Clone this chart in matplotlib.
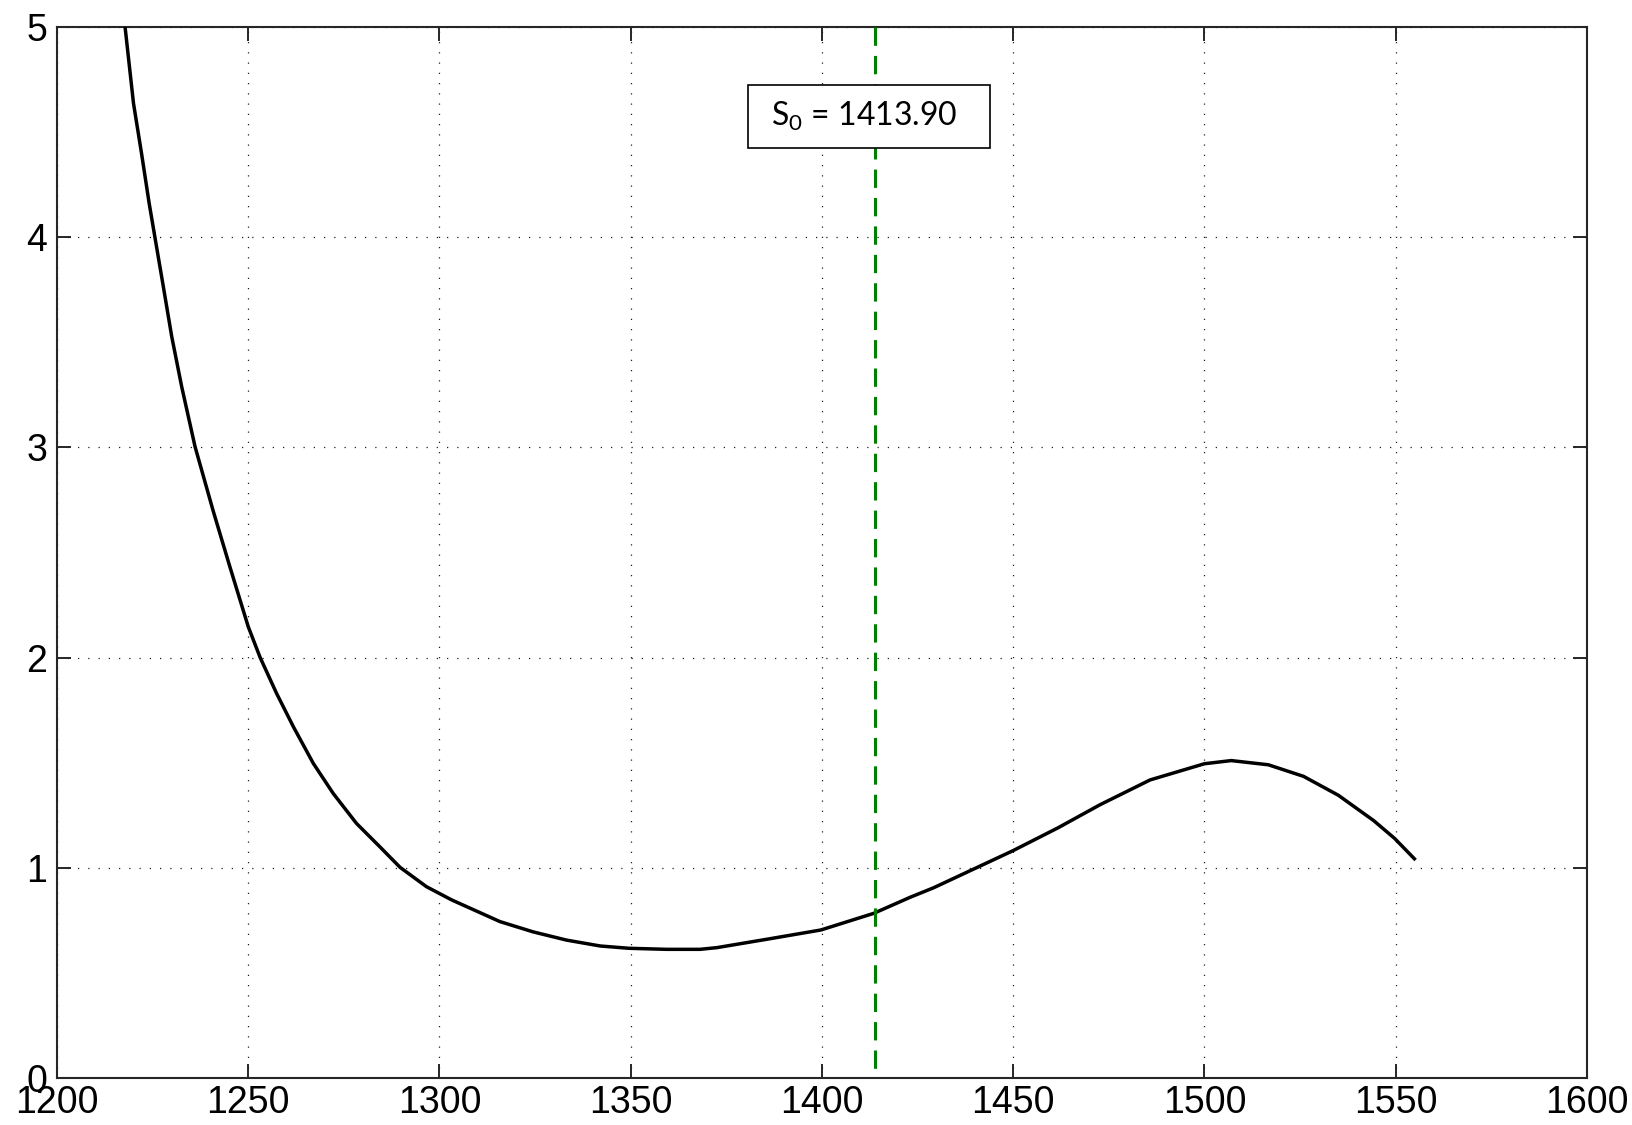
import matplotlib.pyplot as plt

plt.rcParams['mathtext.fontset'] = 'custom'
plt.rcParams['mathtext.rm'] = 'Lato'
plt.rcParams['mathtext.it'] = 'Lato:italic'

# curve samples (S, value)
s_vals = [1217.8, 1220.0, 1222.1, 1224.1, 1225.6, 1227.8, 1230.0, 1232.6,
          1236.1, 1240.8, 1245.2, 1250.0, 1253.1, 1257.4, 1261.8, 1267.0,
          1272.2, 1278.3, 1284.4, 1289.7, 1296.6, 1303.2, 1315.8, 1324.5,
          1333.2, 1342.0, 1349.5, 1359.4, 1368.1, 1372.5, 1385.6, 1399.7,
          1413.5, 1423.1, 1429.2, 1449.9, 1461.7, 1472.7, 1485.8, 1500.0,
          1507.0, 1516.7, 1525.9, 1535.0, 1544.2, 1549.7, 1555.2]
f_vals = [5.000, 4.637, 4.399, 4.161, 4.000, 3.765, 3.527, 3.289,
          3.003, 2.700, 2.432, 2.147, 2.001, 1.830, 1.671, 1.497,
          1.354, 1.211, 1.100, 1.002, 0.910, 0.847, 0.744, 0.695,
          0.656, 0.628, 0.617, 0.612, 0.612, 0.620, 0.660, 0.704,
          0.783, 0.860, 0.905, 1.081, 1.190, 1.300, 1.418, 1.495,
          1.510, 1.490, 1.435, 1.345, 1.225, 1.140, 1.037]
s0 = 1413.90

x_ticks = [1200, 1250, 1300, 1350, 1400, 1450, 1500, 1550, 1600]
y_ticks = [0, 1, 2, 3, 4, 5]

fig = plt.figure(figsize=(16.33, 11.25), dpi=100)
ax = fig.add_axes([0.0349, 0.0418, 0.9369, 0.9342])

ax.plot(s_vals, f_vals, color='black', lw=2.5, solid_joinstyle='round',
        solid_capstyle='butt', zorder=3)
# dashed marker line, drawn top-down so the pattern starts at the top edge
ax.plot([s0, s0], [5, 0], color='#008000', lw=2.2, dashes=(6, 3.3), zorder=4)

ax.set_xlim(1200, 1600)
ax.set_ylim(0, 5)
ax.set_xticks(x_ticks)
ax.set_yticks(y_ticks)

ax.grid(True, color='#202020', lw=0.9, linestyle=(0, (1, 7.2)))
ax.tick_params(direction='in', length=10, width=1.4, color='#262626',
               top=True, right=True, labelsize=27)
ax.tick_params(axis='x', pad=5)
ax.tick_params(axis='y', pad=7)
for lab in ax.get_xticklabels() + ax.get_yticklabels():
    lab.set_family('Liberation Sans')
for sp in ax.spines.values():
    sp.set_linewidth(1.5)
    sp.set_color('#262626')

ax.text(s0 - 1.6, 4.574, ' S$_\\mathrm{0}$ = %.2f   ' % s0, family='Lato', fontsize=23,
        ha='center', va='center', zorder=5,
        bbox=dict(boxstyle='square,pad=0.47', fc='white', ec='black', lw=1.2))

fig.savefig('out.png', dpi=100)
